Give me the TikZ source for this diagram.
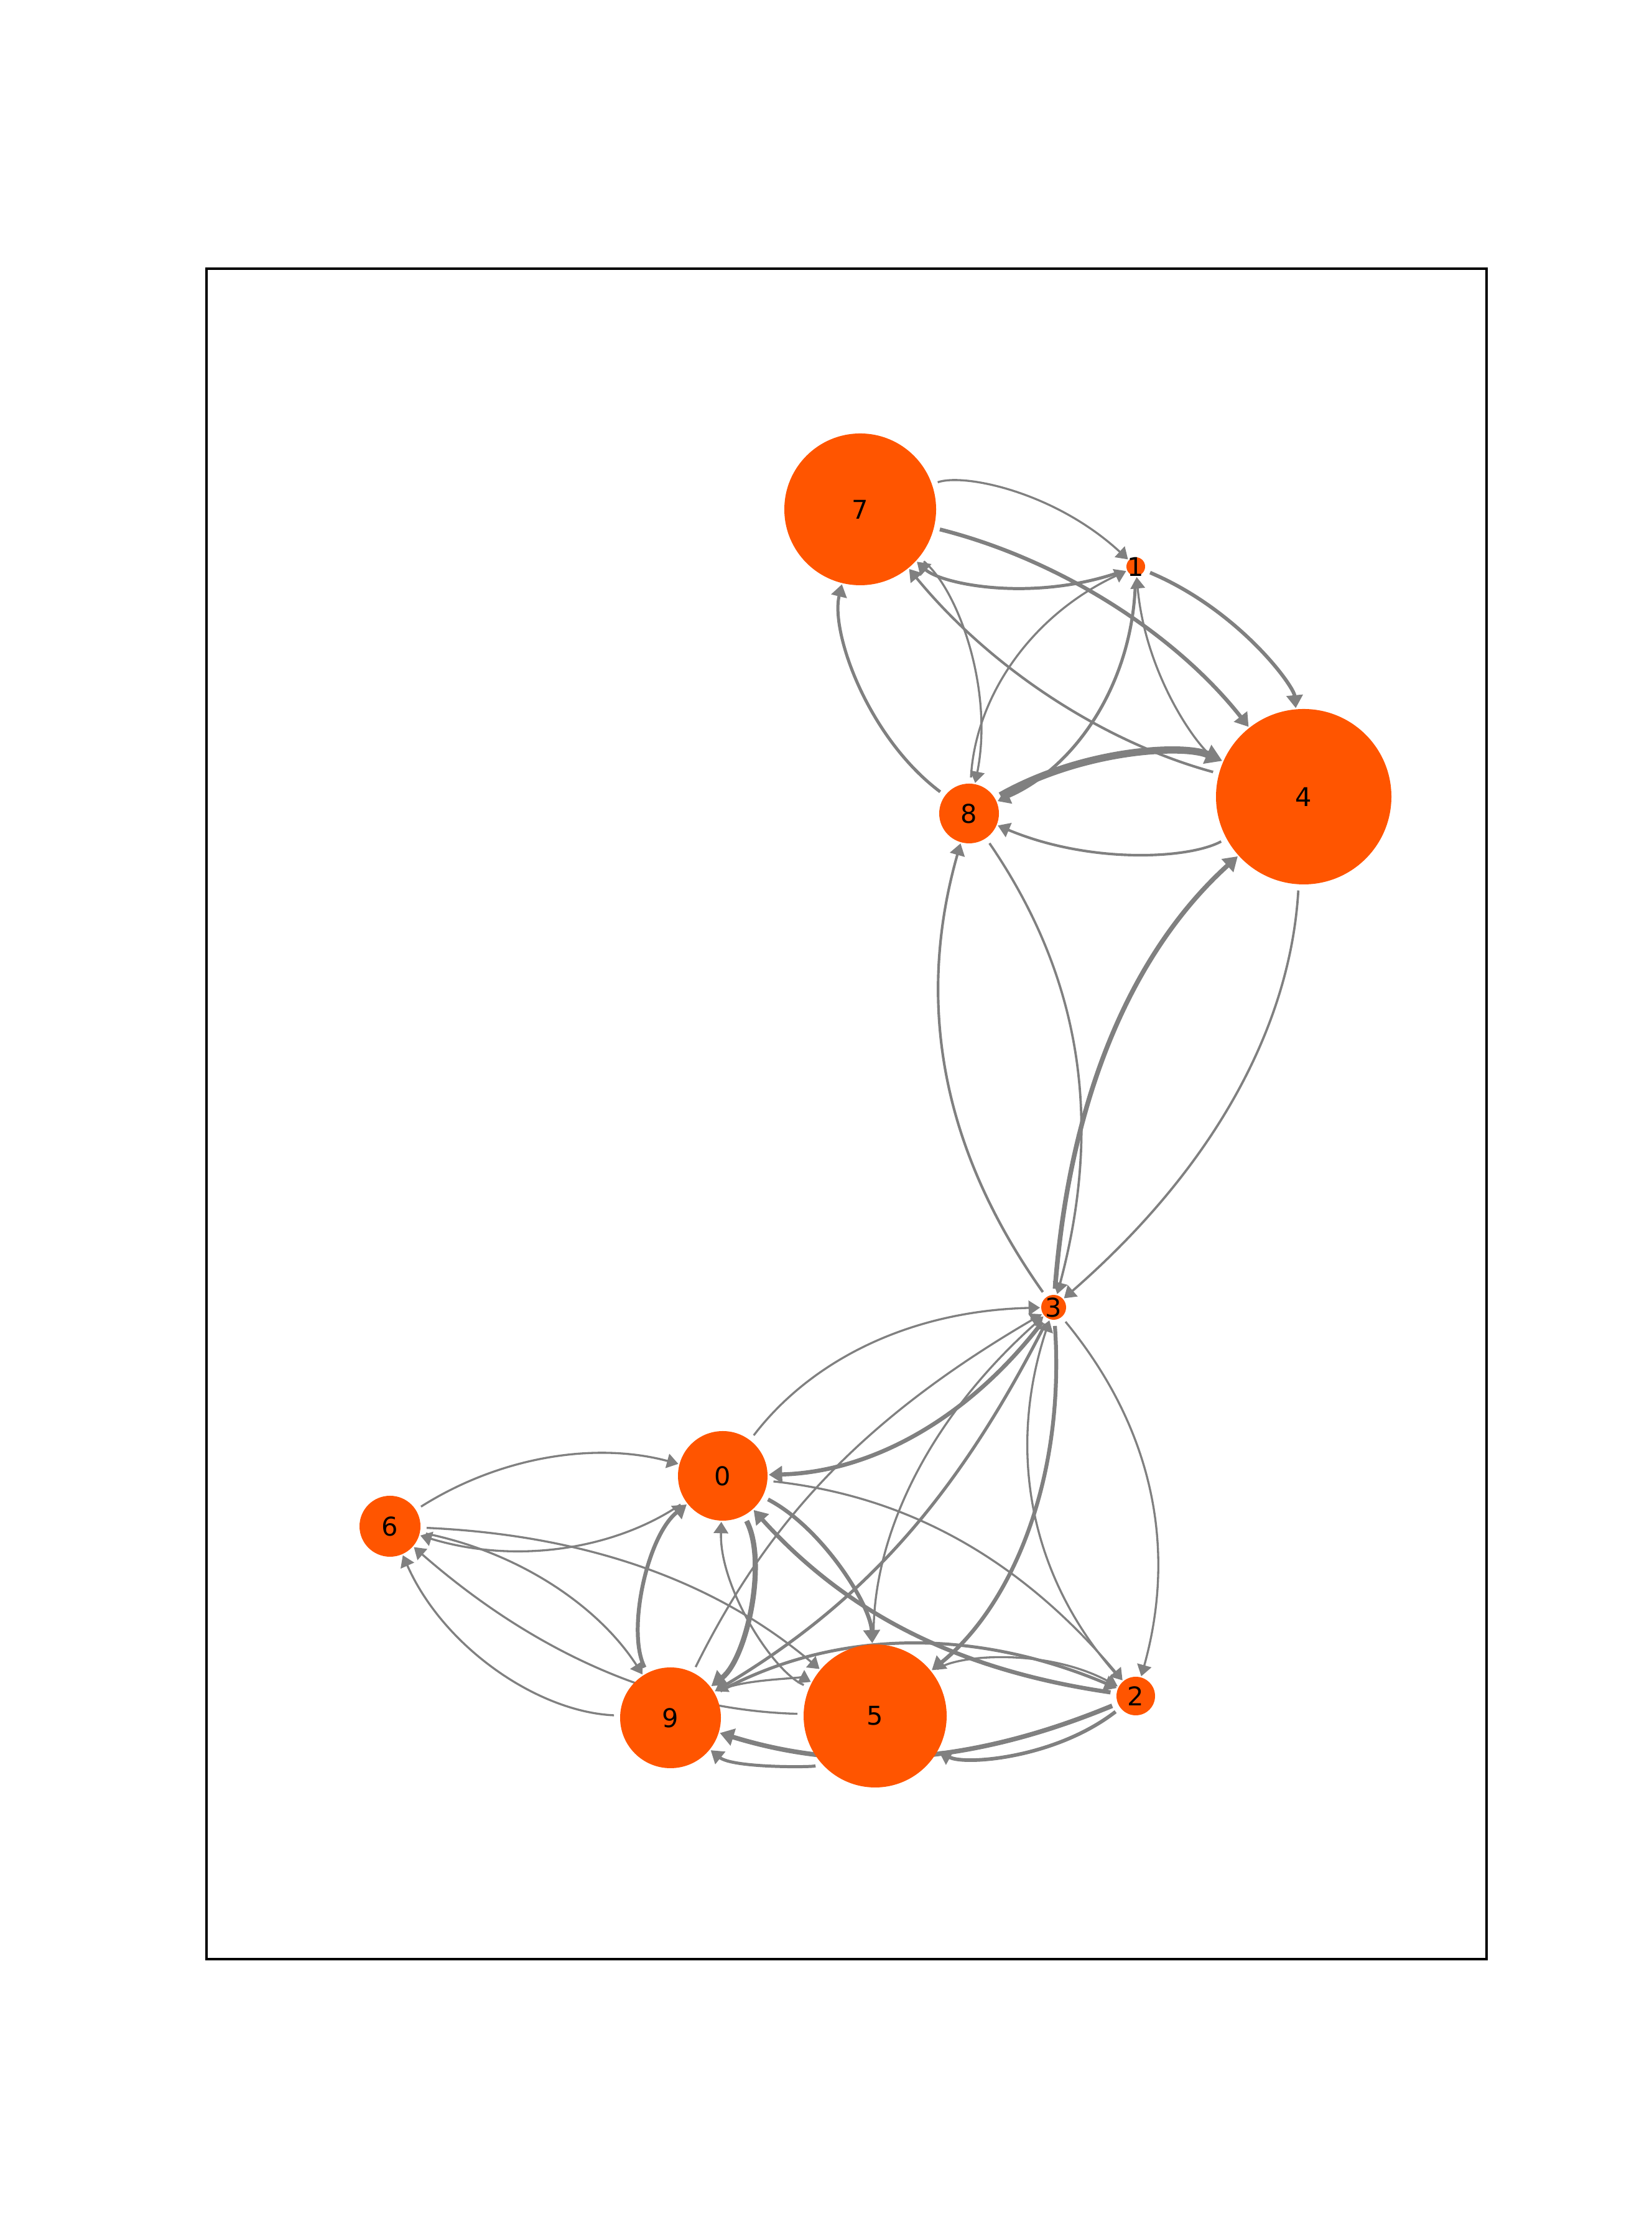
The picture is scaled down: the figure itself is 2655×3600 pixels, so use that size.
\documentclass[tikz,border=0pt]{standalone}
\usepackage{fontspec}
\setmainfont{DejaVu Sans}
\usepackage{tikz}
\usetikzlibrary{arrows.meta}
\definecolor{nodeorange}{RGB}{255,85,0}
\definecolor{edgegray}{RGB}{128,128,128}
\pgfdeclarelayer{edges}
\pgfsetlayers{edges,main}

\begin{document}
\begin{tikzpicture}[x=0.2409pt, y=0.2409pt,
    vert/.style={circle, fill=nodeorange, inner sep=0pt, minimum size=2*#1*\px},
    every label/.style={font=\fontsize{10}{12}\selectfont, inner sep=0pt},
    edge/.style={draw=edgegray, -{Triangle[length=3.6pt 1, width=4.8pt 1]}},
    src/.style={shorten <=(#1+10)*\px},
    dst/.style={shorten >=(#1+2)*\px}]
    \newcommand{\px}{0.2409pt}
    \useasboundingbox (0,0) rectangle (2655,3600);
    \draw[line width=0.8pt] (332,450) rectangle (2390,3168);

    \node[vert=72, label={center:0}] (v0) at (1162,1227) {};
    \node[vert=15, label={center:1}] (v1) at (1826,2689) {};
    \node[vert=31, label={center:2}] (v2) at (1826,873) {};
    \node[vert=20, label={center:3}] (v3) at (1694,1498) {};
    \node[vert=141, label={center:4}] (v4) at (2096,2319) {};
    \node[vert=115, label={center:5}] (v5) at (1407,841) {};
    \node[vert=49, label={center:6}] (v6) at (627,1146) {};
    \node[vert=122, label={center:7}] (v7) at (1383,2781) {};
    \node[vert=48, label={center:8}] (v8) at (1558,2292) {};
    \node[vert=81, label={center:9}] (v9) at (1078,838) {};

    \begin{pgfonlayer}{edges}
    % upper group
    \draw[edge, line width=0.8pt, src=122, dst=15] (v7.center) to[bend left=31] (v1.center);
    \draw[edge, line width=1.2pt, src=15, dst=122] (v1.center) to[bend left=31] (v7.center);
    \draw[edge, line width=1.5pt, src=122, dst=141] (v7.center) to[bend left=18.8] (v4.center);
    \draw[edge, line width=1pt, src=141, dst=122] (v4.center) to[bend left=17.7] (v7.center);
    \draw[edge, line width=1.4pt, src=15, dst=141] (v1.center) to[bend left=31] (v4.center);
    \draw[edge, line width=0.8pt, src=141, dst=15] (v4.center) to[bend left=31] (v1.center);
    \draw[edge, line width=0.8pt, src=48, dst=15] (v8.center) to[bend left=31] (v1.center);
    \draw[edge, line width=1.2pt, src=15, dst=48] (v1.center) to[bend left=32.6] (v8.center);
    \draw[edge, line width=1.2pt, src=48, dst=122] (v8.center) to[bend left=33.4] (v7.center);
    \draw[edge, line width=0.8pt, src=122, dst=48] (v7.center) to[bend left=31] (v8.center);
    \draw[edge, line width=2.8pt, src=48, dst=141] (v8.center) to[bend left=26.6] (v4.center);
    \draw[edge, line width=1pt, src=141, dst=48] (v4.center) to[bend left=25.6] (v8.center);
    \draw[edge, line width=0.9pt, src=48, dst=20] (v8.center) to[bend left=24.7] (v3.center);
    \draw[edge, line width=1pt, src=20, dst=48] (v3.center) to[bend left=25.6] (v8.center);
    \draw[edge, line width=1.8pt, src=20, dst=141] (v3.center) to[bend left=21.8] (v4.center);
    \draw[edge, line width=0.9pt, src=141, dst=20] (v4.center) to[bend left=22.8] (v3.center);
    % lower group
    \draw[edge, line width=0.8pt, src=72, dst=20] (v0.center) to[bend left=25.6] (v3.center);
    \draw[edge, line width=1.6pt, src=20, dst=72] (v3.center) to[bend left=25.6] (v0.center);
    \draw[edge, line width=0.8pt, src=20, dst=31] (v3.center) to[bend left=27.5] (v2.center);
    \draw[edge, line width=0.8pt, src=31, dst=20] (v2.center) to[bend left=30.1] (v3.center);
    \draw[edge, line width=1.5pt, src=20, dst=115] (v3.center) to[bend left=27.5] (v5.center);
    \draw[edge, line width=0.8pt, src=115, dst=20] (v5.center) to[bend left=24.7] (v3.center);
    \draw[edge, line width=1.2pt, src=20, dst=81] (v3.center) to[bend left=16.1] (v9.center);
    \draw[edge, line width=0.8pt, src=81, dst=20] (v9.center) to[bend left=16.7] (v3.center);
    \draw[edge, line width=0.8pt, src=49, dst=72] (v6.center) to[bend left=23.7] (v0.center);
    \draw[edge, line width=0.8pt, src=72, dst=49] (v0.center) to[bend left=25.6] (v6.center);
    \draw[edge, line width=1.5pt, src=81, dst=72] (v9.center) to[bend left=39.4] (v0.center);
    \draw[edge, line width=2pt, src=72, dst=81] (v0.center) to[bend left=40] (v9.center);
    \draw[edge, line width=0.8pt, src=115, dst=72] (v5.center) to[bend left=34.2] (v0.center);
    \draw[edge, line width=1.5pt, src=72, dst=115] (v0.center) to[bend left=30.1] (v5.center);
    \draw[edge, line width=1.6pt, src=31, dst=72] (v2.center) to[bend left=19.8] (v0.center);
    \draw[edge, line width=0.8pt, src=72, dst=31] (v0.center) to[bend left=21.8] (v2.center);
    \draw[edge, line width=0.8pt, src=49, dst=81] (v6.center) to[bend left=22.8] (v9.center);
    \draw[edge, line width=0.8pt, src=81, dst=49] (v9.center) to[bend left=31.8] (v6.center);
    \draw[edge, line width=0.8pt, src=49, dst=115] (v6.center) to[bend left=18.8] (v5.center);
    \draw[edge, line width=0.8pt, src=115, dst=49] (v5.center) to[bend left=19.8] (v6.center);
    \draw[edge, line width=0.8pt, src=81, dst=115] (v9.center) to[bend left=28.4] (v5.center);
    \draw[edge, line width=1.2pt, src=115, dst=81] (v5.center) to[bend left=39.4] (v9.center);
    \draw[edge, line width=1.2pt, src=81, dst=31] (v9.center) to[bend left=25.6] (v2.center);
    \draw[edge, line width=1.8pt, src=31, dst=81] (v2.center) to[bend left=19.8] (v9.center);
    \draw[edge, line width=0.8pt, src=115, dst=31] (v5.center) to[bend left=32.6] (v2.center);
    \draw[edge, line width=1.4pt, src=31, dst=115] (v2.center) to[bend left=33.4] (v5.center);
    \end{pgfonlayer}
\end{tikzpicture}
\end{document}
